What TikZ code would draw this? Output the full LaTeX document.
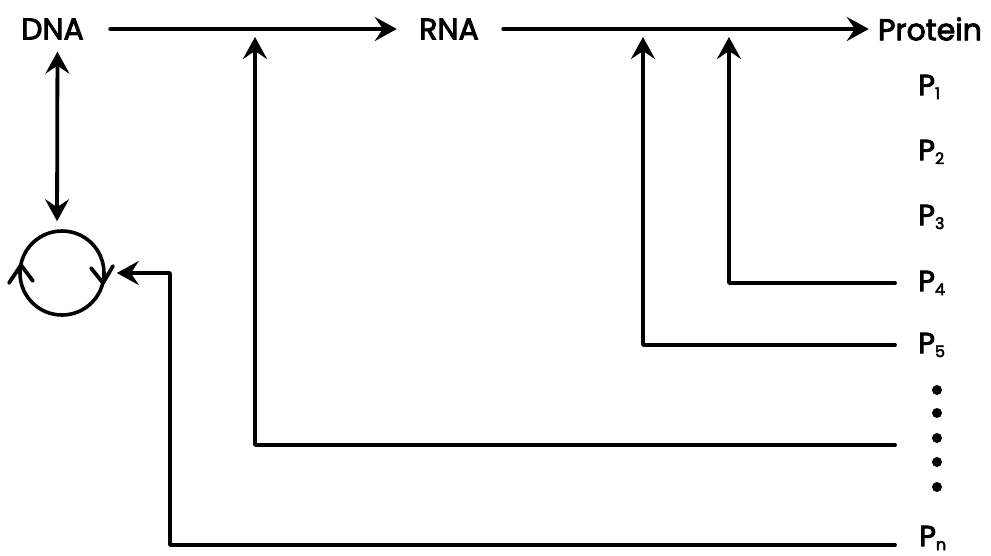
\documentclass[tikz,border=0pt]{standalone}
\usepackage{fontspec}
\setmainfont{Poppins}[UprightFeatures={FakeBold=3}]
\usetikzlibrary{arrows.meta}
\newcommand{\psub}[1]{P\raisebox{-4pt}{\fontsize{16}{16}\selectfont #1}}
\begin{document}
\begin{tikzpicture}[x=1pt,y=-1pt,
  lbl/.style={inner sep=0pt,font=\fontsize{30}{30}\selectfont},
  plbl/.style={inner sep=0pt,anchor=west,font=\fontsize{29}{29}\selectfont},
  ln/.style={line width=3.8pt,line cap=round,line join=round},
  tip/.tip={Stealth[length=22pt,width=24pt,inset=8pt]},
  arr/.style={ln,-tip},
  dbl/.style={ln,tip-tip},
  dotm/.style={fill=black,circle,inner sep=0pt,minimum size=10pt}]
\useasboundingbox (0,0) rectangle (991,555);
% main labels
\node[lbl,minimum width=75pt] (DNA) at (52.5,29) {DNA};
\node[lbl,minimum width=68pt] (RNA) at (449,29) {RNA};
\node[lbl,minimum width=104pt] (Prot) at (930,29) {Protein};
% P labels
\node[plbl] (P1) at (918,87) {\psub{1}};
\node[plbl] (P2) at (918,152) {\psub{2}};
\node[plbl] (P3) at (918,217) {\psub{3}};
\node[plbl] (P4) at (918,283) {\psub{4}};
\node[plbl] (P5) at (918,345) {\psub{5}};
\node[plbl] (Pn) at (919,538) {\psub{n}};
% dots
\foreach \i/\y in {1/390,2/413,3/438,4/462,5/487}
  \node[dotm] (d\i) at (937,\y) {};
% cycle
\node[draw,circle,line width=3.6pt,minimum size=84pt,inner sep=0pt] (cyc) at (62,273) {};
\draw[ln] (9,283) -- (21,265) -- (33,281);
\draw[ln] (91,268) -- (103,283) -- (113,266);
% coordinates
\coordinate (t1) at (255,37);
\coordinate (t2) at (643,37);
\coordinate (t3) at (729,37);
\coordinate (r3) at (895,445);
\coordinate (k) at (170,273);
% main arrows
\draw[arr,shorten <=20pt,shorten >=18pt] (DNA.east) -- (RNA.west);
\draw[arr,shorten <=20pt,shorten >=9pt] (RNA.east) -- (Prot.west);
% DNA <-> cycle
\draw[dbl,shorten <=12pt,shorten >=8pt] ([xshift=5pt]DNA.south) -- ([xshift=-5pt]cyc.north);
% feedback
\draw[arr] ([xshift=-23pt]P4.west) -| (t3);
\draw[arr] ([xshift=-23pt]P5.west) -| (t2);
\draw[arr] (r3) -| (t1);
\draw[arr,shorten >=11pt] ([xshift=-24pt]Pn.west |- 0,545) -| (k) -- (cyc.east);
\end{tikzpicture}
\end{document}
